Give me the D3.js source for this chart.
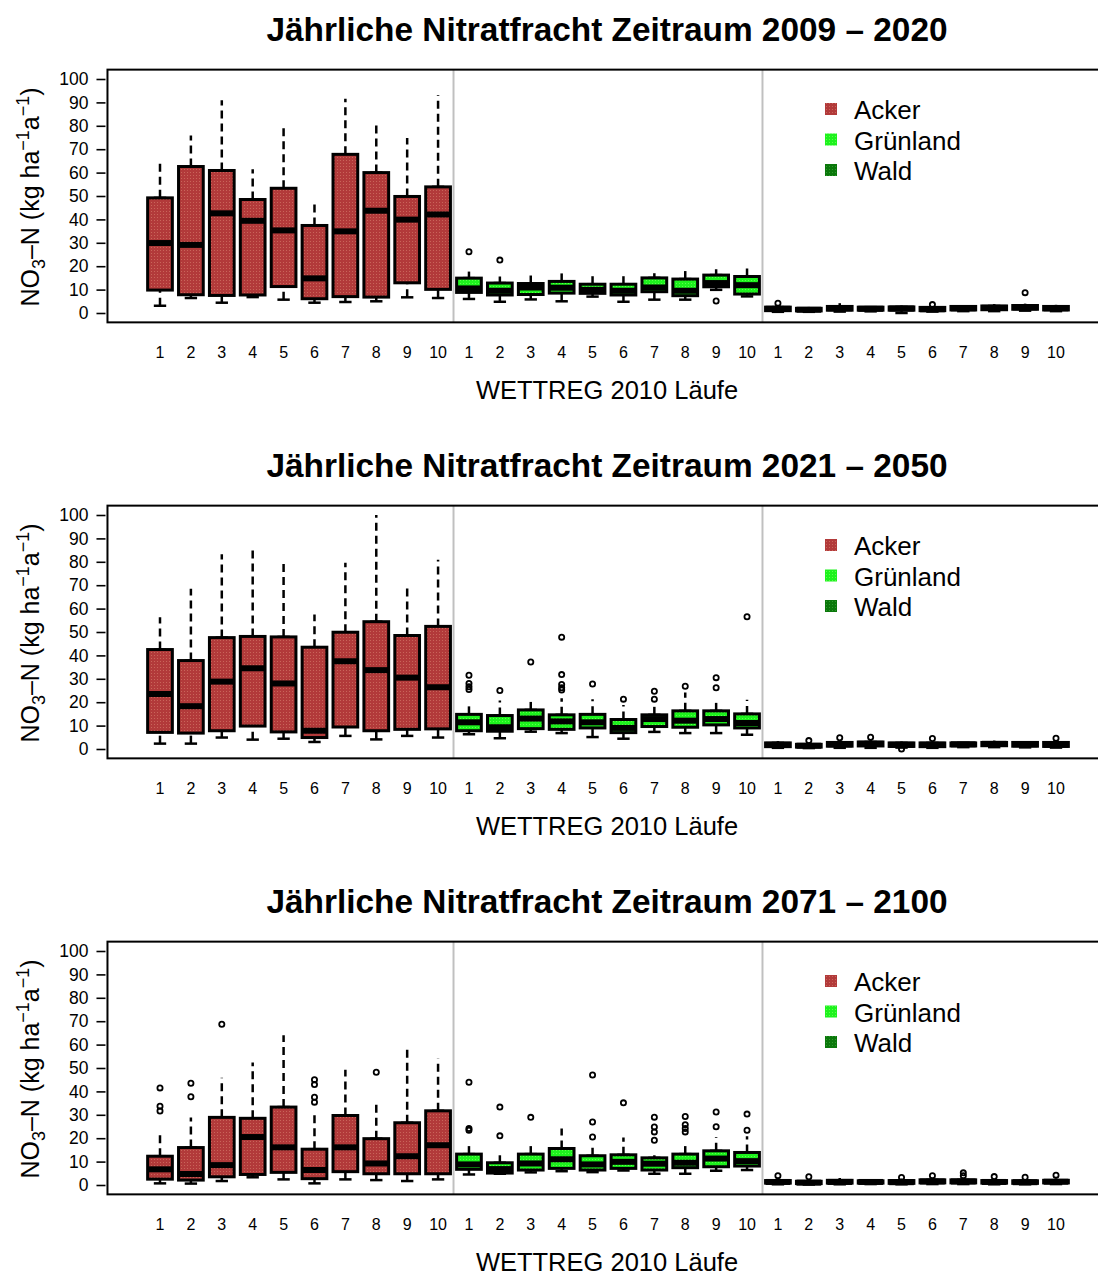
<!DOCTYPE html>
<html>
<head>
<meta charset="utf-8">
<script src="https://cdn.jsdelivr.net/npm/d3@7"></script>
<style>
  body { margin: 0; background: #fff; }
  svg { display: block; font-family: "Liberation Sans", Arial, sans-serif; }
</style>
</head>
<body>
<div id="chart"></div>
<script>
// periods shown, one panel each
const periods = ["2009 – 2020", "2021 – 2050", "2071 – 2100"];
const runs = [1, 2, 3, 4, 5, 6, 7, 8, 9, 10];
const landUse = ["Acker", "Grünland", "Wald"];
const yTicks = [0, 10, 20, 30, 40, 50, 60, 70, 80, 90, 100];

// box stats per run: [lower whisker, Q1, median, Q3, upper whisker]
const acker1 = [[3.1, 9.8, 29.9, 49.2, 65.8], [6.4, 7.8, 29.1, 62.6, 75.9], [4.4, 7.5, 42.6, 60.9, 90.9],
  [6.8, 7.7, 39.4, 48.5, 61.4], [5.7, 11.3, 35.3, 53.3, 79.1], [4.4, 6.1, 14.8, 37.4, 47.0],
  [4.7, 7.0, 34.9, 67.8, 91.6], [5.0, 6.8, 43.7, 60.0, 80.7], [6.7, 12.9, 39.9, 49.8, 74.8],
  [6.4, 10.1, 42.1, 53.9, 93.2]];
const gruen1 = [[6.0, 8.8, 10.5, 14.9, 17.7], [4.8, 7.7, 9.5, 12.8, 15.6], [5.8, 7.9, 10.9, 12.6, 16.6],
  [5.0, 8.5, 10.8, 13.5, 17.7], [7.0, 8.4, 9.9, 12.3, 16.6], [4.8, 7.7, 9.5, 12.3, 16.3],
  [5.7, 9.1, 10.9, 15.0, 17.0], [5.7, 7.4, 9.5, 14.5, 19.1], [9.9, 11.2, 12.8, 16.2, 18.7],
  [7.1, 8.1, 11.9, 15.6, 20.4]];
const wald1 = [[0.5, 1.0, 1.8, 2.5, 3.2], [0.5, 0.9, 1.4, 2.0, 2.6], [0.6, 1.2, 2.0, 2.8, 4.2],
  [0.7, 1.2, 1.8, 2.5, 3.0], [0.0, 1.2, 1.9, 2.6, 3.2], [0.6, 1.0, 1.6, 2.4, 3.0],
  [0.8, 1.3, 2.0, 2.8, 3.4], [0.8, 1.4, 2.2, 3.0, 3.8], [1.0, 1.6, 2.4, 3.2, 4.0],
  [0.8, 1.3, 2.0, 2.8, 3.5]];

const acker2 = [[2.3, 7.1, 23.5, 42.5, 56.3], [2.3, 6.8, 18.3, 37.8, 68.5], [4.9, 7.8, 28.8, 47.6, 83.2],
  [4.0, 9.8, 34.5, 48.1, 85.4], [4.4, 7.3, 28.0, 47.9, 79.9], [3.0, 4.9, 7.8, 43.5, 57.5],
  [5.6, 9.4, 37.5, 49.9, 79.6], [4.1, 7.8, 33.7, 54.4, 100.0], [5.6, 8.4, 30.5, 48.5, 69.0],
  [4.9, 8.6, 26.4, 52.4, 80.9]];
const gruen2 = [[6.3, 7.8, 11.4, 14.8, 18.3], [4.6, 7.6, 9.3, 14.3, 20.7], [7.4, 8.7, 13.0, 16.7, 21.0],
  [6.8, 8.4, 11.8, 14.6, 21.7], [5.1, 9.0, 11.4, 14.8, 21.3], [4.4, 7.0, 9.0, 12.6, 18.8],
  [7.3, 9.6, 12.8, 14.6, 19.5], [6.8, 9.3, 12.1, 16.3, 24.1], [6.8, 10.3, 12.8, 16.3, 20.0],
  [6.1, 9.0, 11.1, 15.0, 21.1]];
const wald2 = [[0.5, 1.0, 1.8, 2.6, 3.4], [0.4, 0.8, 1.4, 2.0, 2.6], [0.5, 1.2, 2.0, 2.8, 3.6],
  [0.5, 1.3, 2.2, 3.0, 4.0], [0.6, 1.1, 1.8, 2.6, 3.2], [0.5, 1.0, 1.8, 2.6, 3.2],
  [0.8, 1.3, 2.0, 2.6, 3.0], [0.8, 1.4, 2.2, 2.8, 3.6], [0.7, 1.2, 2.0, 2.8, 3.2],
  [0.6, 1.1, 1.8, 2.8, 3.8]];

const acker3 = [[0.7, 2.5, 6.7, 12.3, 22.9], [0.6, 2.1, 4.7, 16.0, 28.8], [1.7, 3.5, 8.5, 28.9, 45.8],
  [3.3, 4.5, 20.5, 28.5, 52.3], [2.4, 5.4, 16.1, 33.3, 64.0], [0.7, 2.7, 6.4, 15.3, 31.0],
  [2.4, 5.7, 16.1, 29.7, 49.2], [2.1, 4.8, 9.2, 19.8, 35.7], [1.7, 4.8, 12.3, 26.6, 57.9],
  [2.4, 4.8, 17.0, 31.7, 54.1]];
const gruen3 = [[4.5, 6.7, 8.8, 13.2, 16.7], [4.8, 5.1, 6.8, 9.5, 12.7], [5.4, 6.4, 9.2, 13.2, 18.4],
  [5.9, 7.1, 11.0, 15.6, 24.1], [5.5, 6.4, 8.8, 12.5, 16.0], [6.2, 7.1, 9.9, 12.9, 20.3],
  [4.8, 6.4, 9.1, 11.6, 12.7], [4.8, 7.4, 9.5, 13.2, 17.7], [6.1, 7.8, 11.3, 14.6, 20.5],
  [6.4, 8.1, 10.2, 13.9, 20.8]];
const wald3 = [[0.3, 0.8, 1.3, 1.9, 2.4], [0.2, 0.6, 1.0, 1.6, 2.2], [0.3, 0.8, 1.3, 2.0, 3.0],
  [0.4, 0.8, 1.3, 1.8, 2.2], [0.3, 0.7, 1.2, 1.9, 2.8], [0.4, 0.9, 1.5, 2.2, 3.0],
  [0.4, 0.9, 1.5, 2.2, 2.8], [0.3, 0.8, 1.3, 1.9, 2.5], [0.3, 0.7, 1.2, 1.8, 2.4],
  [0.4, 0.9, 1.4, 2.0, 2.8]];

// outliers per run
const ackerOut1 = [[], [], [], [], [], [], [], [], [], []];
const gruenOut1 = [[26.2], [22.6], [], [], [], [], [], [], [5.1], []];
const waldOut1 = [[4.2], [], [], [], [], [3.6], [], [], [8.7], []];

const ackerOut2 = [[], [], [], [], [], [], [], [], [], []];
const gruenOut2 = [[31.5, 28.0, 26.6, 25.4], [25.0], [37.2], [47.8, 31.8, 27.6, 26.2, 25.2], [27.8],
  [21.3], [24.7, 21.3], [26.8], [30.5, 26.2], [56.5]];
const waldOut2 = [[], [3.6], [4.8], [5.0], [0.0], [4.5], [], [], [], [4.6]];

const ackerOut3 = [[41.5, 33.7, 31.6], [43.5, 37.7], [68.7], [], [], [45.0, 42.9, 37.5, 35.4], [], [48.2], [], []];
const gruenOut3 = [[43.9, 24.1, 23.4], [33.3, 21.0], [28.9], [], [47.0, 26.9, 20.5], [35.1],
  [29.0, 24.8, 22.7, 19.1], [29.3, 25.8, 24.1, 22.7], [31.2, 24.9], [30.3, 23.4]];
const waldOut3 = [[4.0], [3.5], [], [], [3.2], [4.0], [4.0, 5.2], [3.6], [3.3], [4.2]];

const panelStats = [[acker1, gruen1, wald1], [acker2, gruen2, wald2], [acker3, gruen3, wald3]];
const panelOut = [[ackerOut1, gruenOut1, waldOut1], [ackerOut2, gruenOut2, waldOut2], [ackerOut3, gruenOut3, waldOut3]];

const fillColors = {"Acker": "#b23a3a", "Grünland": "#1ef21e", "Wald": "#0b780b"};
const dotColors = {"Acker": "#c9655a", "Grünland": "#5cff4a", "Wald": "#2e9a2e"};

const W = 1098, H = 1271;
const panelShift = 436;

const svg = d3.select("#chart").append("svg")
  .attr("width", W)
  .attr("height", H);

// dotted fills like the original
const defs = svg.append("defs");
landUse.forEach((lu, k) => {
  const p = defs.append("pattern")
    .attr("id", "pat" + k)
    .attr("patternUnits", "userSpaceOnUse")
    .attr("width", 3).attr("height", 3);
  p.append("rect").attr("width", 3).attr("height", 3).attr("fill", fillColors[lu]);
  p.append("rect").attr("x", 1).attr("y", 1).attr("width", 1).attr("height", 1).attr("fill", dotColors[lu]);
});

// box positions 1..30 across the three land use groups
var x = d3.scaleLinear().domain([1, 30]).range([160, 1056]);
const boxW = (x(2) - x(1)) * 0.8;

periods.forEach((period, pi) => {
  const off = pi * panelShift;
  var y = d3.scaleLinear().domain([0, 100]).range([313 + off, 79 + off]);

  const g = svg.append("g");

  // title
  g.append("text")
    .attr("x", 607)
    .attr("y", 41 + off)
    .attr("text-anchor", "middle")
    .attr("font-size", "33.4px")
    .attr("font-weight", 700)
    .text("Jährliche Nitratfracht Zeitraum " + period);

  // group separators
  [10.5, 20.5].forEach(s => {
    g.append("line")
      .attr("x1", x(s)).attr("x2", x(s))
      .attr("y1", y(104)).attr("y2", y(-4))
      .attr("stroke", "#c0c0c0")
      .attr("stroke-width", 2);
  });

  // boxes
  panelStats[pi].forEach((stats, k) => {
    stats.forEach((s, r) => {
      const cx = x(k * 10 + r + 1);
      const bg = g.append("g");
      // whiskers
      [[s[0], s[1]], [s[3], s[4]]].forEach(w => {
        bg.append("line")
          .attr("x1", cx).attr("x2", cx)
          .attr("y1", y(w[0])).attr("y2", y(w[1]))
          .attr("stroke", "#000")
          .attr("stroke-width", 2.5)
          .attr("stroke-dasharray", "8,5");
        bg.append("line")
          .attr("x1", cx - boxW / 4).attr("x2", cx + boxW / 4)
          .attr("y1", y(w[0])).attr("y2", y(w[0]))
          .attr("stroke", "#000")
          .attr("stroke-width", 2.5);
      });
      bg.append("rect")
        .attr("x", cx - boxW / 2)
        .attr("y", y(s[3]))
        .attr("width", boxW)
        .attr("height", y(s[1]) - y(s[3]))
        .attr("fill", "url(#pat" + k + ")")
        .attr("stroke", "#000")
        .attr("stroke-width", 3);
      bg.append("line")
        .attr("x1", cx - boxW / 2).attr("x2", cx + boxW / 2)
        .attr("y1", y(s[2])).attr("y2", y(s[2]))
        .attr("stroke", "#000")
        .attr("stroke-width", 6);
      // outliers
      panelOut[pi][k][r].forEach(o => {
        bg.append("circle")
          .attr("cx", cx).attr("cy", y(o))
          .attr("r", 2.6)
          .attr("fill", "none")
          .attr("stroke", "#000")
          .attr("stroke-width", 1.8);
      });
    });
  });

  // frame
  g.append("rect")
    .attr("x", x(-0.7))
    .attr("y", y(104))
    .attr("width", x(31.7) - x(-0.7))
    .attr("height", y(-4) - y(104))
    .attr("fill", "none")
    .attr("stroke", "#000")
    .attr("stroke-width", 2);

  // y axis
  var yAxis = d3.axisLeft(y).tickValues(yTicks).tickSize(9).tickPadding(8);
  const ya = g.append("g")
    .attr("transform", "translate(" + (x(-0.7) - 2) + ",0)")
    .call(yAxis);
  ya.select(".domain").remove();
  ya.selectAll(".tick line").attr("stroke-width", 1.6);
  ya.selectAll(".tick text")
    .attr("font-size", "17.5px")
    .attr("font-family", "Liberation Sans, Arial, sans-serif")
    .attr("fill", "#000");

  // x labels
  d3.range(30).forEach(i => {
    g.append("text")
      .attr("x", x(i + 1))
      .attr("y", 358 + off)
      .attr("text-anchor", "middle")
      .attr("font-size", "16px")
      .text(runs[i % 10]);
  });

  g.append("text")
    .attr("x", 607)
    .attr("y", 399 + off)
    .attr("text-anchor", "middle")
    .attr("font-size", "25.5px")
    .text("WETTREG 2010 Läufe");

  // y label
  const yl = g.append("text")
    .attr("transform", "translate(39," + (197 + off) + ") rotate(-90)")
    .attr("text-anchor", "middle")
    .attr("font-size", "25px");
  yl.append("tspan").text("NO");
  yl.append("tspan").attr("font-size", "18px").attr("dy", 6).text("3");
  yl.append("tspan").attr("dy", -6).text("–N (kg ha");
  yl.append("tspan").attr("font-size", "18px").attr("dy", -10).text("−1");
  yl.append("tspan").attr("dy", 10).text("a");
  yl.append("tspan").attr("font-size", "18px").attr("dy", -10).text("−1");
  yl.append("tspan").attr("dy", 10).text(")");

  // legend
  landUse.forEach((lu, k) => {
    g.append("rect")
      .attr("x", 825).attr("y", 103 + k * 30.5 + off)
      .attr("width", 12).attr("height", 12)
      .attr("fill", "url(#pat" + k + ")");
    g.append("text")
      .attr("x", 854).attr("y", 119 + k * 30.5 + off)
      .attr("font-size", "26px")
      .text(lu);
  });
});
</script>
</body>
</html>
